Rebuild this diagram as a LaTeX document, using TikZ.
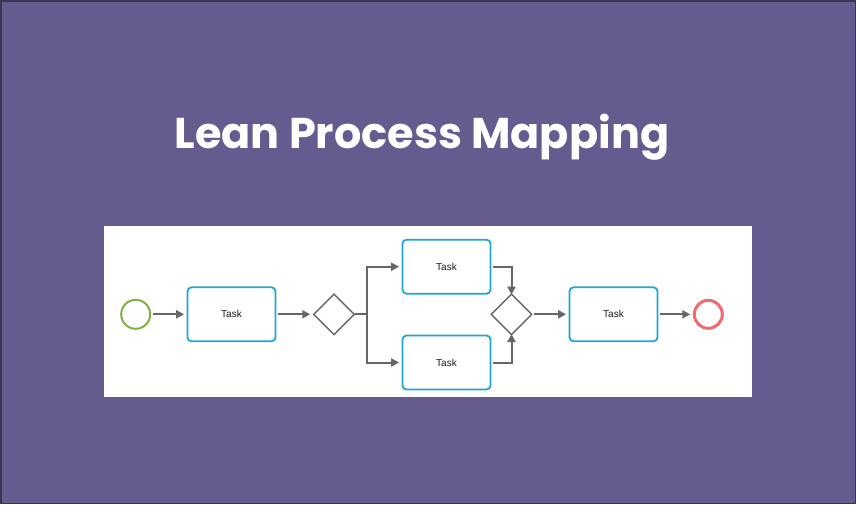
\documentclass[tikz,border=0pt]{standalone}
\usepackage{fontspec}
\setmainfont{Liberation Sans}
\newfontfamily\titlefont{Poppins}[UprightFont=* Bold]
\usetikzlibrary{arrows.meta,shapes.geometric}
\definecolor{bgpurple}{HTML}{655B8E}
\definecolor{edgedark}{HTML}{3A3552}
\definecolor{taskblue}{HTML}{1EA7D2}
\definecolor{startgreen}{HTML}{7CB342}
\definecolor{endred}{HTML}{F26B6B}
\definecolor{flowgray}{HTML}{666666}
\tikzset{
  taskbox/.style={draw=taskblue, line width=1.8pt, rounded corners=4pt, fill=white,
    minimum width=88pt, minimum height=54pt, inner sep=0pt, font=\fontsize{10}{12}\selectfont, text=black!90},
  gatebox/.style={draw=flowgray, line width=1.4pt, diamond, aspect=1, minimum width=41pt, minimum height=41pt, inner sep=0pt},
  flow/.style={draw=flowgray, line width=2pt, -{Triangle[length=8pt,width=8pt]}},
  flowline/.style={draw=flowgray, line width=2pt}
}
\begin{document}
\begin{tikzpicture}[x=1pt,y=-1pt]
\useasboundingbox (0,0) rectangle (856,504);
\fill[bgpurple] (0,0) rectangle (856,504);
\draw[edgedark, line width=1.5pt] (0.75,0.75) rectangle (855.25,503.25);
\node[text=white, anchor=base, inner sep=0pt, font=\titlefont\fontsize{43}{50}\selectfont] (title) at (422,148.3) {Lean Process Mapping};
\fill[white] (104,226) rectangle (752,397);
\node[circle, draw=startgreen, line width=2pt, minimum size=29pt, inner sep=0pt] (start) at (135.7,314.3) {};
\node[taskbox] (t1) at (231.5,314.3) {Task};
\node[gatebox] (g1) at (334,314.3) {};
\node[taskbox] (t2) at (446.5,266.7) {Task};
\node[taskbox] (t3) at (446.5,362.5) {Task};
\node[gatebox] (g2) at (511.5,314.3) {};
\node[taskbox] (t4) at (613.5,314.3) {Task};
\node[circle, draw=endred, line width=3pt, minimum size=28pt, inner sep=0pt] (end) at (708.3,314.3) {};
\draw[flow] ([xshift=1.5pt]start.east) -- ([xshift=-2.5pt]t1.west);
\draw[flow] ([xshift=2pt]t1.east) -- ([xshift=-2.5pt]g1.west);
\draw[flowline] (g1.east) -- ++(12,0) coordinate (fork);
\draw[flow] (fork) |- ([xshift=-2.5pt]t2.west);
\draw[flow] (fork) |- ([xshift=-2.5pt]t3.west);
\draw[flow] ([xshift=2pt]t2.east) -| ([yshift=-1.5pt]g2.north);
\draw[flow] ([xshift=2pt]t3.east) -| ([yshift=1.5pt]g2.south);
\draw[flow] ([xshift=1.5pt]g2.east) -- ([xshift=-2.5pt]t4.west);
\draw[flow] ([xshift=2pt]t4.east) -- ([xshift=-2.5pt]end.west);
\end{tikzpicture}
\end{document}
